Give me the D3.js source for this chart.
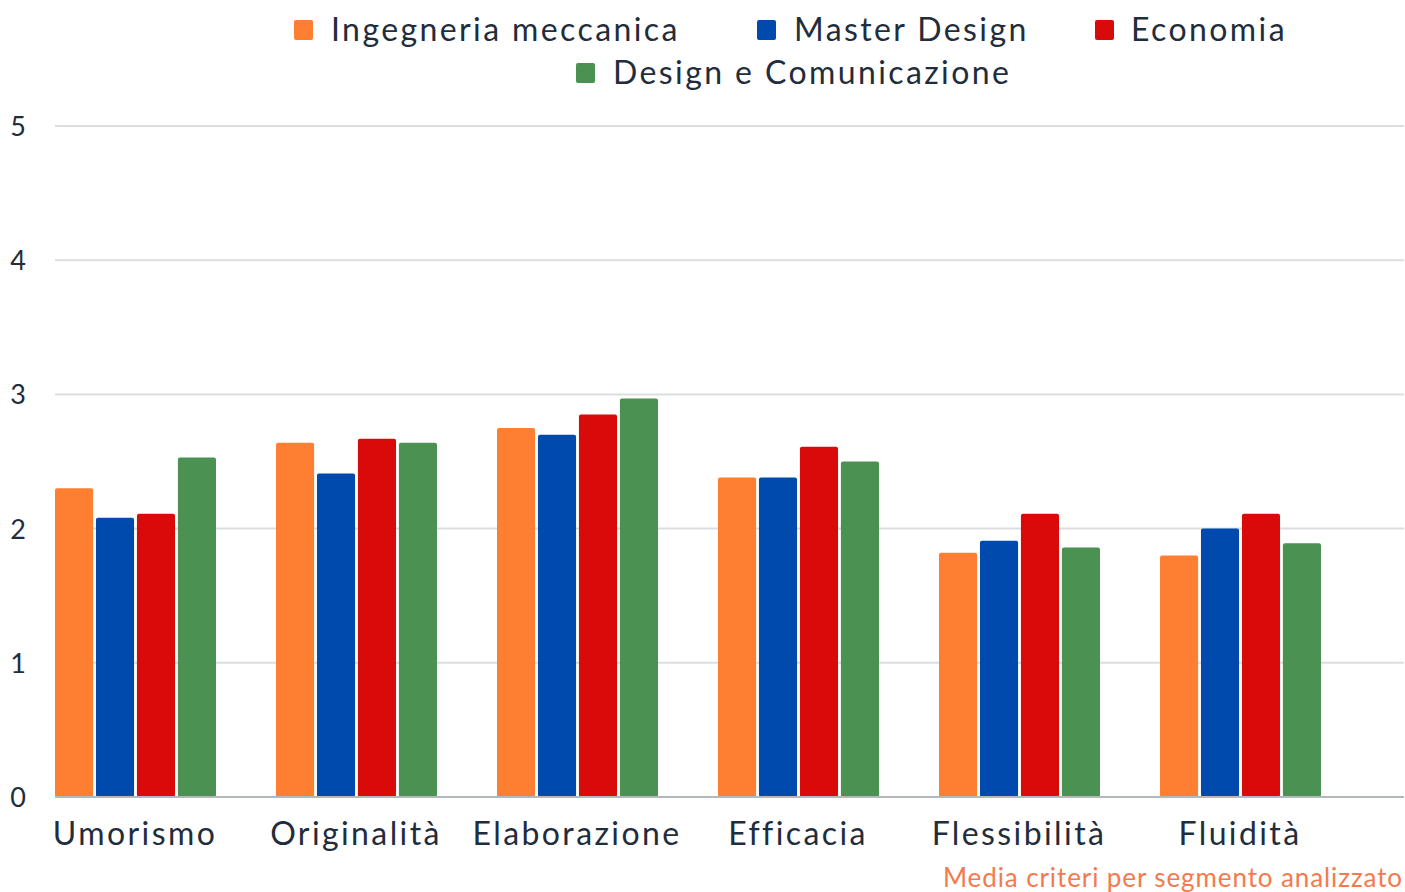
<!DOCTYPE html>
<html lang="it">
<head>
<meta charset="UTF-8">
<title>Media criteri per segmento</title>
<script src="https://d3js.org/d3.v7.min.js"></script>
<style>
  body { margin: 0; background: #fff; }
  svg text { font-family: "Lato", "Open Sans", sans-serif; }
</style>
</head>
<body>
<script>
// dati
var categories = ["Umorismo", "Originalità", "Elaborazione", "Efficacia", "Flessibilità", "Fluidità"];
var seriesNames = ["Ingegneria meccanica", "Master Design", "Economia", "Design e Comunicazione"];
var ingMeccanica = [2.30, 2.64, 2.75, 2.38, 1.82, 1.80];
var masterDesign = [2.08, 2.41, 2.70, 2.38, 1.91, 2.00];
var economia     = [2.11, 2.67, 2.85, 2.61, 2.11, 2.11];
var designCom    = [2.53, 2.64, 2.97, 2.50, 1.86, 1.89];
var yTicks = [0, 1, 2, 3, 4, 5];

var colors = ["#FF7F32", "#004AAD", "#D90A0A", "#4B9151"];
var allSeries = [ingMeccanica, masterDesign, economia, designCom];

var w = 1405, h = 892;
var mLeft = 55, mRight = 1404, mTop = 126, mBottom = 797;

var svg = d3.select("body").append("svg")
    .attr("width", w)
    .attr("height", h);

var y = d3.scaleLinear().domain([0, 5]).range([mBottom, mTop]);

var x0 = d3.scaleBand()
    .domain(categories)
    .range([mLeft, mLeft + 221 * categories.length])
    .padding(0);

var x1 = d3.scaleBand()
    .domain(seriesNames)
    .range([0, 161])
    .paddingInner(0.07);

// griglia
svg.append("g")
  .selectAll("line")
  .data(yTicks.filter(function(d){ return d > 0; }))
  .enter().append("line")
    .attr("x1", mLeft).attr("x2", mRight)
    .attr("y1", function(d){ return y(d); })
    .attr("y2", function(d){ return y(d); })
    .attr("stroke", "#dadde2")
    .attr("stroke-width", 2);

// etichette asse y
var yAxis = d3.axisLeft(y).tickValues(yTicks).tickSize(0).tickPadding(0)
    .tickFormat(d3.format("d"));
var gy = svg.append("g").attr("transform", "translate(18,0)").call(yAxis);
gy.select(".domain").remove();
gy.selectAll("text")
    .attr("text-anchor", "middle")
    .attr("font-size", 27)
    .attr("font-family", "Lato, sans-serif")
    .attr("fill", "#1f2d3d")
    .attr("dy", "0.35em");

// barre
var groups = svg.append("g")
  .selectAll("g")
  .data(categories)
  .enter().append("g")
    .attr("transform", function(d){ return "translate(" + x0(d) + ",0)"; });

groups.selectAll("rect")
  .data(function(d, i){
      return seriesNames.map(function(s, j){ return {key: s, value: allSeries[j][i], idx: j}; });
  })
  .enter().append("rect")
    .attr("x", function(d){ return x1(d.key); })
    .attr("y", function(d){ return y(d.value); })
    .attr("width", x1.bandwidth())
    .attr("height", function(d){ return mBottom - y(d.value); })
    .attr("rx", 2)
    .attr("fill", function(d){ return colors[d.idx]; });

// linea base
svg.append("line")
    .attr("x1", mLeft).attr("x2", mRight)
    .attr("y1", mBottom).attr("y2", mBottom)
    .attr("stroke", "#b3b8bd")
    .attr("stroke-width", 2);

// etichette categorie
svg.append("g")
  .selectAll("text")
  .data(categories)
  .enter().append("text")
    .attr("x", function(d){ return x0(d) + 80; })
    .attr("y", 845)
    .attr("text-anchor", "middle")
    .attr("font-size", 32)
    .attr("letter-spacing", 2.4)
    .attr("fill", "#1f2d3d")
    .text(function(d){ return d; });

// legenda
var legendPos = [
  {sx: 294, tx: 331, y: 30},
  {sx: 757, tx: 794, y: 30},
  {sx: 1095, tx: 1131, y: 30},
  {sx: 576, tx: 613, y: 73}
];
var lg = svg.append("g")
  .selectAll("g")
  .data(seriesNames)
  .enter().append("g");
lg.append("rect")
    .attr("x", function(d, i){ return legendPos[i].sx; })
    .attr("y", function(d, i){ return legendPos[i].y - 10; })
    .attr("width", 19).attr("height", 20)
    .attr("rx", 2)
    .attr("fill", function(d, i){ return colors[i]; });
lg.append("text")
    .attr("x", function(d, i){ return legendPos[i].tx; })
    .attr("y", function(d, i){ return legendPos[i].y; })
    .attr("dy", "0.35em")
    .attr("font-size", 32)
    .attr("letter-spacing", 2.4)
    .attr("fill", "#1f2d3d")
    .text(function(d){ return d; });

// nota
svg.append("text")
    .attr("x", 1403)
    .attr("y", 887)
    .attr("text-anchor", "end")
    .attr("font-size", 26)
    .attr("letter-spacing", 0.9)
    .attr("fill", "#F47A4E")
    .text("Media criteri per segmento analizzato");
</script>
</body>
</html>
